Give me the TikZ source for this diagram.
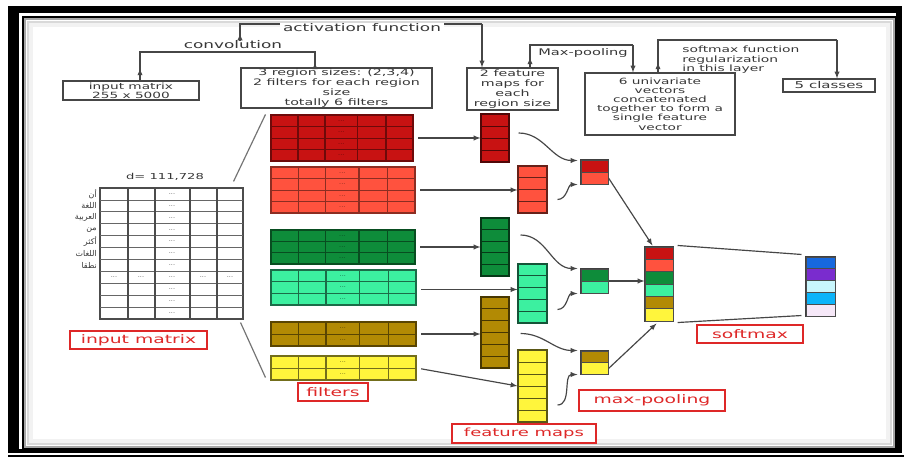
\documentclass[tikz,border=0pt]{standalone}
\usepackage{fontspec}
\setmainfont{DejaVu Sans}
\newfontfamily\labfont[FakeStretch=1.6]{DejaVu Sans}
\newfontfamily\arabicfont[Script=Arabic]{DejaVu Sans}
\TeXXeTstate=1
\usepackage{xcolor}
\usetikzlibrary{calc,fit}

\definecolor{dred}{RGB}{200,18,18}
\definecolor{lred}{RGB}{255,82,62}
\definecolor{dgreen}{RGB}{14,140,58}
\definecolor{aqua}{RGB}{60,240,160}
\definecolor{mustard}{RGB}{178,138,4}
\definecolor{lyellow}{RGB}{255,245,60}
\definecolor{smblue}{RGB}{22,104,222}
\definecolor{smpurple}{RGB}{122,44,206}
\definecolor{smcyan}{RGB}{200,246,252}
\definecolor{smsky}{RGB}{12,180,250}
\definecolor{smlav}{RGB}{246,232,248}
\definecolor{labred}{RGB}{222,40,40}
\definecolor{wiregray}{RGB}{70,70,70}
\definecolor{ink}{RGB}{55,55,55}

% column of cells: name, x0, y0, x1, y1, rows, fill, rule
\newcommand{\cellstack}[8]{%
  \node[cellbox, fit={(#2,#3)(#4,#5)}, fill=#7, draw=#8] (#1) {};
  \pgfmathtruncatemacro{\lastrow}{#6-1}
  \foreach \r in {1,...,\lastrow}{
    \pgfmathsetmacro{\yrow}{#3+(#5-#3)*\r/#6}
    \draw[#8, line width=0.8pt] (#2,\yrow) -- (#4,\yrow);
  }
}
% filter block: a cell column split into five columns
\newcommand{\filterblock}[8]{%
  \cellstack{#1}{#2}{#3}{#4}{#5}{#6}{#7}{#8}
  \foreach \f in {0.19,0.38,0.61,0.81}{
    \pgfmathsetmacro{\xcol}{#2+(#4-#2)*\f}
    \draw[#8, line width=1.2pt] (\xcol,#3) -- (\xcol,#5);
  }
  \foreach \r in {1,...,#6}{
    \pgfmathsetmacro{\ydot}{#3+(#5-#3)*(\r-0.5)/#6}
    \pgfmathsetmacro{\xdot}{#2+(#4-#2)*0.495}
    \node[dotlabel, text=#8] (#1-dots-\r) at (\xdot,\ydot) {...};
  }
}
% stack of coloured cells: name, x0, y0, x1, y1, cells, colours
\newcommand{\colorstack}[7]{%
  \node[cellbox, fit={(#2,#3)(#4,#5)}, draw=black!75] (#1) {};
  \foreach \cellcol [count=\i] in {#7}{
    \pgfmathsetmacro{\ya}{#3+(#5-#3)*(\i-1)/#6}
    \pgfmathsetmacro{\yb}{#3+(#5-#3)*\i/#6}
    \filldraw[fill=\cellcol, draw=black!70, line width=0.8pt] (#2,\ya) rectangle (#4,\yb);
  }
}

\begin{document}
\begin{tikzpicture}[x=0.03cm, y=-0.03cm, >=latex,
  link/.style={draw=wiregray, line width=1pt},
  feed/.style={link, ->},
  pass/.style={feed, shorten <=4pt},
  sized/.style 2 args={minimum width=#1*0.03cm, minimum height=#2*0.03cm},
  textbox/.style={draw=wiregray, line width=1pt, fill=white, inner sep=0pt, align=center,
    text=ink, font=\labfont\fontsize{7.3}{7.8}\selectfont},
  tag/.style={text=ink, inner sep=1pt, font=\labfont\fontsize{9}{10}\selectfont},
  redlabel/.style={draw=labred, line width=1.4pt, fill=white, inner sep=0pt, text=labred,
    font=\labfont\fontsize{10}{12}\selectfont},
  cellbox/.style={inner sep=0pt, line width=0.9pt},
  dotlabel/.style={inner sep=0pt, font=\fontsize{5.5}{6}\selectfont}]

  \useasboundingbox (0,0) rectangle (905,459);
  % frame
  \fill[white] (0,0) rectangle (905,459);
  \fill[black] (8,6) rectangle (902,453);
  \fill[white] (19,13) rectangle (896,449);
  \draw[black, line width=1.2pt] (23,17) rectangle (896,449);
  \draw[black!35, line width=1.5pt] (25,19) rectangle (894,447);
  \draw[black!15, line width=2pt] (28,22) rectangle (891,444);
  \draw[black!5, line width=3pt] (31,25) rectangle (888,441);
  \draw[black, line width=1.2pt] (8,456) -- (904,456);

  % boxes on top
  \node[textbox, sized={136}{19}] (inbox) at (131,90.5) {input matrix\\255 x 5000};
  \node[textbox, sized={191}{40}, font=\labfont\fontsize{7.6}{8.3}\selectfont] (fbox) at (336.5,88)
    {3 region sizes: (2,3,4)\\2 filters for each region\\size\\totally 6 filters};
  \node[textbox, sized={91}{42}, font=\labfont\fontsize{7.6}{8.3}\selectfont] (fmbox) at (512.5,89)
    {2 feature\\maps for\\each\\region size};
  \node[textbox, sized={150}{62}] (ubox) at (660,104)
    {6 univariate\\vectors\\concatenated\\together to form a\\single feature\\vector};
  \node[textbox, sized={92}{13}, font=\labfont\fontsize{8}{9}\selectfont] (classbox) at (829,85.5) {5 classes};

  \node[tag] (conv) at (233,45) {convolution};
  \coordinate (convL) at (140,52);
  \coordinate (convR) at (315,52);
  \draw[link] (inbox.north -| convL) -- (convL) -- (convR) -- (fbox.north -| convR);
  \draw[feed] (inbox.north -| convL) -- ++(0,-12);
  \draw[feed] (fbox.north -| convR) -- ++(0,-5);

  \coordinate (actL) at (240,24);
  \coordinate (actR) at (482,24);
  \draw[link] (conv.north -| actL) -- (actL) -- (actR);
  \draw[feed] (conv.north -| actL) -- ++(0,-6);
  \draw[feed] (actR) -- (fmbox.north -| actR);
  \node[tag, fill=white, inner xsep=3pt] (act) at (362,28) {activation function};

  \coordinate (mpL) at (530,45);
  \coordinate (mpR) at (633,45);
  \draw[link] (fmbox.north -| mpL) -- (mpL) -- (mpR);
  \draw[feed] (fmbox.north -| mpL) -- ++(0,-10);
  \draw[feed] (mpR) -- (ubox.north -| mpR);
  \node[tag, font=\labfont\fontsize{7.8}{9}\selectfont] (maxp) at (583,53) {Max-pooling};

  \coordinate (smL) at (658,40);
  \coordinate (smR) at (837,40);
  \draw[link] (ubox.north -| smL) -- (smL) -- (smR);
  \draw[feed] (ubox.north -| smL) -- ++(0,-10);
  \draw[feed] (smR) -- (classbox.north -| smR);
  \node[tag, anchor=north west, align=left, font=\labfont\fontsize{7.4}{7.7}\selectfont] (smtxt)
    at (681,45) {softmax function\\regularization\\in this layer};

  % input matrix
  \node[dotlabel, font=\labfont\fontsize{7}{8}\selectfont, text=ink] (dlabel) at (165,177) {d= 111,728};
  \node[cellbox, fit={(100,188)(243,319)}, draw=black!70, fill=white] (ingrid) {};
  \foreach \r in {1,...,10}
    \draw[black!60, line width=0.6pt] (100,{188+131*\r/11}) -- (243,{188+131*\r/11});
  \foreach \xg in {128,155,190,217}
    \draw[black!70, line width=1.3pt] (\xg,188) -- (\xg,319);
  \foreach \r in {1,...,11}
    \node[dotlabel, text=black!60] (idots-\r) at (172,{188+131*(\r-0.5)/11}) {...};
  \foreach \xg [count=\i] in {114,141,203,230}
    \node[dotlabel, text=black!60] (rdots-\i) at (\xg,{188+131*7.5/11}) {...};
  \foreach \word [count=\i] in {أن,اللغة,العربية,من,أكثر,اللغات,نطقا}
    \node[anchor=east, inner sep=0pt, text=ink, font=\arabicfont\fontsize{6.8}{7}\selectfont]
      (word-\i) at (97,{188+11.9*(\i-0.5)}) {\beginR\word\endR};

  % filters
  \filterblock{f1}{271}{115}{413}{161}{4}{dred}{dred!55!black}
  \filterblock{f2}{271}{167}{415}{213}{4}{lred}{lred!55!black}
  \filterblock{f3}{271}{230}{415}{264}{3}{dgreen}{dgreen!55!black}
  \filterblock{f4}{271}{270}{416}{305}{3}{aqua}{aqua!45!black}
  \filterblock{f5}{271}{322}{416}{346}{2}{mustard}{mustard!50!black}
  \filterblock{f6}{271}{356}{416}{380}{2}{lyellow}{lyellow!45!black}

  \draw[link, draw=black!55] ($(ingrid.north east)+(-10,-6)$) -- ($(f1.north west)+(-5,0)$);
  \draw[link, draw=black!55] ($(ingrid.south east)+(-3,3)$) -- ($(f6.south west)+(-5,-3)$);

  % feature maps
  \cellstack{m1}{481}{114}{509}{162}{4}{dred}{dred!40!black}
  \cellstack{m2}{518}{166}{547}{213}{4}{lred}{lred!40!black}
  \cellstack{m3}{481}{218}{509}{276}{5}{dgreen}{dgreen!40!black}
  \cellstack{m4}{518}{264}{547}{323}{5}{aqua}{aqua!35!black}
  \cellstack{m5}{481}{297}{509}{368}{6}{mustard}{mustard!40!black}
  \cellstack{m6}{518}{350}{547}{422}{6}{lyellow}{lyellow!35!black}

  \draw[pass] (f1.east) -- (f1.east -| m1.west);
  \draw[pass] (f2.east) -- (f2.east -| m2.west);
  \draw[pass] (f3.east) -- (f3.east -| m3.west);
  \draw[pass] ($(f4.east)+(0,2)$) -- ($(f4.east -| m4.west)+(0,2)$);
  \draw[pass] (f5.east) -- (f5.east -| m5.west);
  \draw[pass] (f6.east) -- (m6.west);

  % max-pooling
  \colorstack{p1}{581}{160}{608}{184}{2}{dred,lred}
  \colorstack{p2}{581}{269}{608}{293}{2}{dgreen,aqua}
  \colorstack{p3}{581}{351}{608}{374}{2}{mustard,lyellow}

  \draw[feed] ($(m1.east)+(9,-5)$) to[out=0,in=180] ($(p1.north west)+(-3,1)$);
  \draw[feed] ($(m2.east)+(10,10)$) to[out=0,in=180] ($(p1.south west)+(-3,0)$);
  \draw[feed] ($(m3.east)+(11,-12)$) to[out=0,in=180] ($(p2.north west)+(-3,0)$);
  \draw[feed] ($(m4.east)+(10,16)$) to[out=0,in=180] ($(p2.south west)+(-3,0)$);
  \draw[feed] ($(m5.east)+(11,1)$) to[out=0,in=180] ($(p3.north west)+(-3,0)$);
  \draw[feed] ($(m6.east)+(10,19)$) to[out=0,in=180] ($(p3.south west)+(-3,0)$);

  % concatenated vector and softmax
  \colorstack{cc}{645}{247}{673}{321}{6}{dred,lred,dgreen,aqua,mustard,lyellow}
  \colorstack{sm}{806}{257}{835}{316}{5}{smblue,smpurple,smcyan,smsky,smlav}

  \draw[feed] ($(p1.east)+(0,6)$) -- ($(cc.north west)+(8,-1)$);
  \draw[feed] (p2.east) -- (p2.east -| cc.west);
  \draw[feed] ($(p3.east)+(0,6)$) -- ($(cc.south west)+(12,2)$);
  \draw[link] ($(cc.north east)+(4,-1)$) -- ($(sm.north west)+(-4,-2)$);
  \draw[link] ($(cc.south east)+(4,1)$) -- ($(sm.south west)+(-4,-1)$);

  % red labels
  \node[redlabel, sized={137}{18}] (inlab) at (138.5,340) {input matrix};
  \node[redlabel, sized={70}{18}] (filtlab) at (333,392) {filters};
  \node[redlabel, sized={144}{19}, font=\labfont\fontsize{9.6}{11}\selectfont] (fmlab) at (524,433.5) {feature maps};
  \node[redlabel, sized={146}{21}] (poollab) at (652,400.5) {max-pooling};
  \node[redlabel, sized={106}{18}] (smlab) at (750,334) {softmax};

\end{tikzpicture}
\end{document}
